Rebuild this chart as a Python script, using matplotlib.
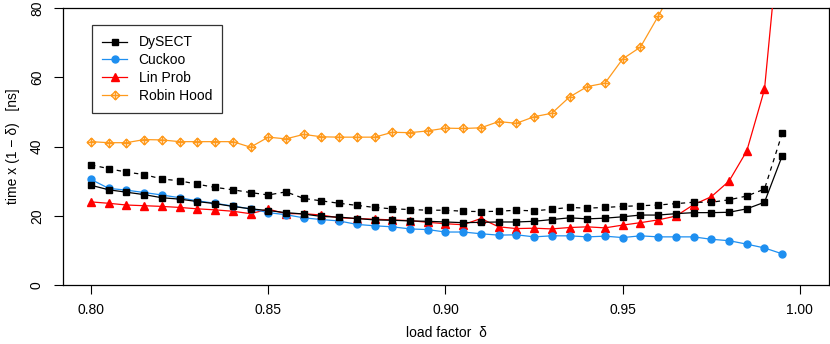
import numpy as np
import matplotlib
matplotlib.use("Agg")
import matplotlib.pyplot as plt
from matplotlib.path import Path

# load factors 0.800 ... 0.995 in steps of 0.005
load = [0.800, 0.805, 0.810, 0.815, 0.820, 0.825, 0.830, 0.835, 0.840, 0.845,
        0.850, 0.855, 0.860, 0.865, 0.870, 0.875, 0.880, 0.885, 0.890, 0.895,
        0.900, 0.905, 0.910, 0.915, 0.920, 0.925, 0.930, 0.935, 0.940, 0.945,
        0.950, 0.955, 0.960, 0.965, 0.970, 0.975, 0.980, 0.985, 0.990, 0.995]

dysect_solid = [28.8, 27.5, 26.8, 26.1, 25.2, 24.8, 24.1, 23.5, 22.7, 22.0,
                21.5, 20.9, 20.5, 19.8, 19.6, 19.2, 18.8, 18.7, 18.5, 18.4,
                18.2, 18.0, 18.1, 18.2, 18.2, 18.4, 18.9, 19.4, 19.1, 19.3,
                19.7, 20.2, 20.2, 20.6, 20.9, 20.9, 21.0, 22.0, 23.9, 37.3]

dysect_dashed = [34.7, 33.6, 32.6, 31.9, 30.6, 30.1, 29.1, 28.2, 27.5, 26.7,
                 26.0, 26.9, 25.0, 24.3, 23.6, 23.0, 22.4, 22.0, 21.8, 21.6,
                 21.6, 21.3, 21.2, 21.3, 21.6, 21.4, 21.9, 22.4, 22.2, 22.4,
                 22.7, 22.9, 23.1, 23.5, 23.9, 23.9, 24.6, 25.7, 27.7, 43.8]

cuckoo = [30.5, 27.9, 27.4, 26.7, 26.0, 25.2, 24.3, 23.6, 22.8, 22.0,
          20.9, 20.3, 19.4, 18.9, 18.5, 17.5, 17.1, 16.8, 16.2, 16.0,
          15.3, 15.3, 14.8, 14.4, 14.5, 13.9, 14.2, 14.2, 13.9, 14.1,
          13.7, 14.2, 13.9, 13.9, 13.9, 13.2, 12.8, 11.8, 10.7, 9.0]

lin_prob = [24.0, 23.6, 23.1, 22.9, 22.7, 22.4, 22.0, 21.7, 21.3, 20.6,
            21.9, 20.6, 20.6, 20.2, 19.4, 19.2, 19.0, 18.8, 18.6, 18.1,
            17.7, 17.4, 19.2, 16.8, 16.3, 16.4, 16.2, 16.6, 16.8, 16.5,
            17.3, 18.0, 18.8, 19.9, 23.2, 25.5, 30.0, 38.7, 56.5, 110.0]

# Robin Hood leaves the plot after 0.965
robin_load = load[:34]
robin_hood = [41.4, 41.1, 41.1, 42.0, 41.9, 41.4, 41.4, 41.4, 41.4, 39.8,
              42.7, 42.2, 43.5, 42.8, 42.7, 42.7, 42.7, 44.1, 44.0, 44.5,
              45.3, 45.2, 45.4, 47.2, 46.7, 48.6, 49.6, 54.3, 57.3, 58.3,
              65.3, 68.7, 77.6, 87.0]

plt.rcParams['font.family'] = ['Liberation Sans', 'DejaVu Sans']
plt.rcParams['font.size'] = 10

ORANGE = '#ff9a1c'
BLUE = '#1e8ff0'

# R's pch 9: diamond with a plus inside
diamond_plus = Path(
    [(0, 1), (1, 0), (0, -1), (-1, 0), (0, 1),
     (-1, 0), (1, 0), (0, -1), (0, 1)],
    [Path.MOVETO, Path.LINETO, Path.LINETO, Path.LINETO, Path.CLOSEPOLY,
     Path.MOVETO, Path.LINETO, Path.MOVETO, Path.LINETO])

fig = plt.figure(figsize=(8.30, 3.44), dpi=100)
ax = fig.add_axes([63 / 830, 1 - 285 / 344, 766 / 830, 277 / 344])

lw = 0.9
ax.plot(robin_load, robin_hood, color=ORANGE, lw=lw, marker=diamond_plus,
        ms=6.2, mfc='none', mec=ORANGE, mew=1.0, label='Robin Hood', zorder=2)
ax.plot(load, lin_prob, color='red', lw=lw, marker='^', ms=6.0,
        label='Lin Prob', zorder=3)
ax.plot(load, cuckoo, color=BLUE, lw=lw, marker='o', ms=5.0,
        label='Cuckoo', zorder=4)
ax.plot(load, dysect_dashed, color='black', lw=lw, ls=(0, (3.5, 3.5)),
        marker='s', ms=5.0, label='_nolegend_', zorder=5)
ax.plot(load, dysect_solid, color='black', lw=lw, marker='s', ms=5.0,
        label='DySECT', zorder=6)

ax.set_xlim(0.7921, 1.0082)
ax.set_ylim(0, 80)
ax.set_xticks([0.80, 0.85, 0.90, 0.95, 1.00])
ax.set_xticklabels(['0.80', '0.85', '0.90', '0.95', '1.00'])
ax.set_yticks([0, 20, 40, 60, 80])
ax.tick_params(axis='both', direction='out', length=6.2, width=0.8,
               labelsize=10)
ax.tick_params(axis='x', pad=6.5)
ax.tick_params(axis='y', pad=7.5)
plt.setp(ax.get_yticklabels(), rotation=90, va='center')
for sp in ax.spines.values():
    sp.set_linewidth(0.9)

ax.set_xlabel('load factor  δ', fontsize=10, labelpad=7)
ax.set_ylabel('time x (1 − δ)   [ns]', fontsize=10, labelpad=7)

handles, labels = ax.get_legend_handles_labels()
order = ['DySECT', 'Cuckoo', 'Lin Prob', 'Robin Hood']
hmap = dict(zip(labels, handles))
leg = ax.legend([hmap[k] for k in order], order,
                loc='upper left', bbox_to_anchor=(92 / 830, 1 - 25 / 344),
                bbox_transform=fig.transFigure, borderaxespad=0,
                frameon=True, fancybox=False, handlelength=1.75,
                handletextpad=0.85, labelspacing=0.28, borderpad=0.75,
                fontsize=10)
leg.get_frame().set_edgecolor('black')
leg.get_frame().set_linewidth(0.9)

fig.savefig('out.png', dpi=100)
